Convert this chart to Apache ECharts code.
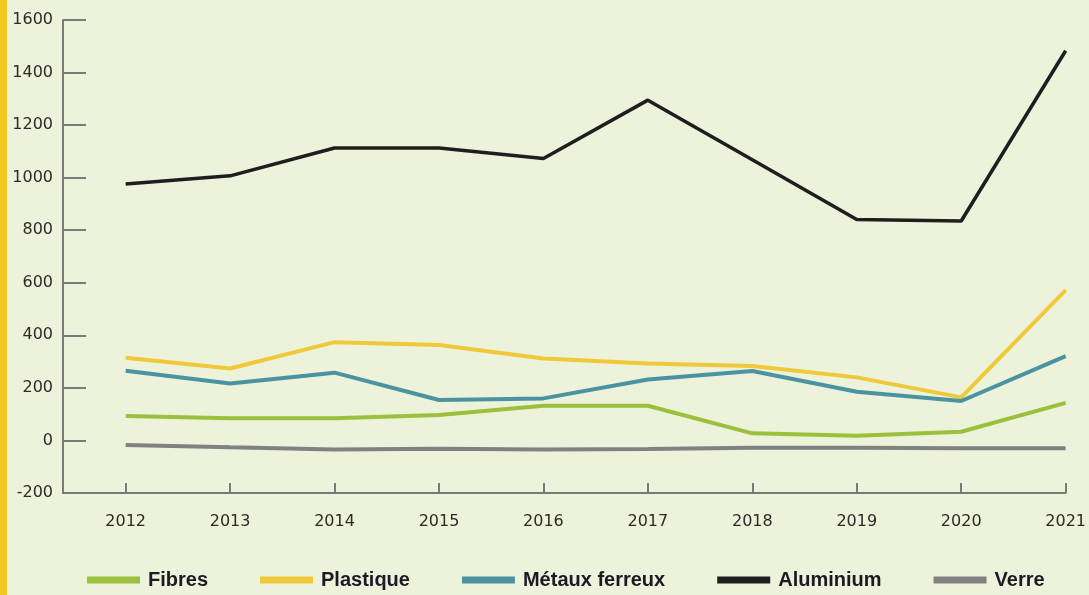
<!DOCTYPE html>
<html>
<head>
<meta charset="utf-8">
<script src="https://cdn.jsdelivr.net/npm/echarts@6/dist/echarts.min.js"></script>
<style>
  html, body { margin: 0; padding: 0; background: #EDF2DA; }
  #strip { position: absolute; left: 0; top: 0; width: 7px; height: 595px; background: #F2C81E; }
  #main { width: 1089px; height: 595px; }
</style>
</head>
<body>
<div id="strip"></div>
<div id="main"></div>
<script>
var years = [2012, 2013, 2014, 2015, 2016, 2017, 2018, 2019, 2020, 2021];
var fibres = [93, 84, 84, 97, 132, 132, 27, 18, 33, 143];
var plastique = [315, 274, 374, 363, 312, 293, 283, 240, 164, 572];
var metaux = [265, 217, 258, 154, 160, 232, 264, 185, 150, 321];
var aluminium = [976, 1007, 1113, 1113, 1073, 1295, 1068, 841, 835, 1483];
var verre = [-17, -26, -34, -32, -34, -33, -28, -28, -30, -30];

var myChart = echarts.init(document.getElementById('main'));

function pairs(vals) {
    return years.map(function (y, i) { return [y, vals[i]]; });
}

function line(name, vals, color, width) {
    return {
        name: name,
        type: 'line',
        data: pairs(vals),
        symbol: 'none',
        lineStyle: { color: color, width: width },
        itemStyle: { color: color }
    };
}

var axisColor = '#7a7a78';
var labelStyle = { color: '#2e2a26', fontSize: 16, fontFamily: 'DejaVu Sans' };

option = {
    backgroundColor: 'transparent',
    animation: false,
    grid: { left: 63, right: 20, top: 20, bottom: 102 },
    legend: {
        bottom: 0,
        left: 82,
        itemWidth: 53,
        itemHeight: 7,
        itemGap: 52,
        icon: 'rect',
        textStyle: { fontSize: 20, fontWeight: 'bold', color: '#1c1a24', fontFamily: 'Liberation Sans', padding: [0, 0, 0, 3] },
        data: ['Fibres', 'Plastique', 'Métaux ferreux', 'Aluminium', 'Verre']
    },
    xAxis: {
        type: 'value',
        min: 2011.4,
        max: 2021,
        splitLine: { show: false },
        axisLine: { onZero: false, lineStyle: { color: axisColor, width: 2 } },
        axisTick: { inside: true, length: 10, customValues: years, lineStyle: { color: axisColor, width: 2 } },
        axisLabel: Object.assign({ margin: 21, customValues: years, formatter: function (v) { return String(v); } }, labelStyle)
    },
    yAxis: {
        type: 'value',
        min: -200,
        max: 1600,
        interval: 200,
        splitLine: { show: false },
        axisLine: { show: true, lineStyle: { color: axisColor, width: 2 } },
        axisTick: { show: true, inside: true, length: 23, lineStyle: { color: axisColor, width: 2 } },
        axisLabel: Object.assign({ margin: 10, formatter: function (v) { return String(v); } }, labelStyle)
    },
    series: [
        line('Fibres', fibres, '#9CC03C', 4),
        line('Plastique', plastique, '#F0C93A', 4),
        line('Métaux ferreux', metaux, '#4A93A0', 4),
        line('Aluminium', aluminium, '#1E1E1E', 3.5),
        line('Verre', verre, '#818181', 4)
    ]
};
myChart.setOption(option);
</script>
</body>
</html>
